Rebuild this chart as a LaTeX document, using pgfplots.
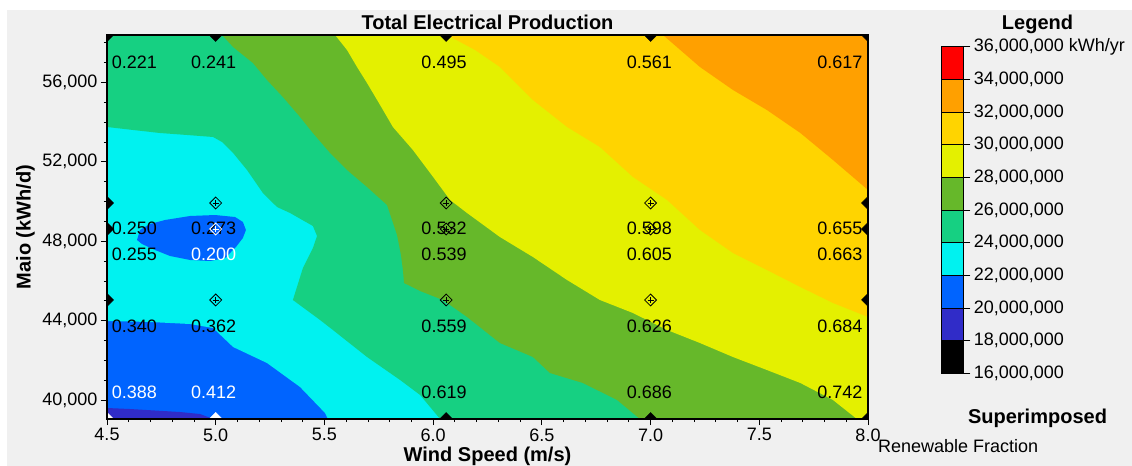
\documentclass[border=0pt]{standalone}
\usepackage{fontspec}
\setmainfont{Liberation Sans}
\usepackage{pgfplots}
\pgfplotsset{compat=1.18}
\definecolor{cRed}{RGB}{255,0,0}
\definecolor{cOrange}{RGB}{255,160,0}
\definecolor{cGold}{RGB}{255,212,0}
\definecolor{cYellow}{RGB}{228,240,0}
\definecolor{cGreen}{RGB}{102,184,42}
\definecolor{cTeal}{RGB}{22,208,130}
\definecolor{cCyan}{RGB}{0,242,240}
\definecolor{cBlue}{RGB}{0,100,255}
\definecolor{cIndigo}{RGB}{48,44,200}
\definecolor{cPanel}{RGB}{240,240,240}
\newcommand{\regfont}{\fontsize{18bp}{20bp}\selectfont}
\newcommand{\boldfont}{\bfseries\fontsize{20bp}{22bp}\selectfont}
\begin{document}
\begin{tikzpicture}
\fill[white] (0,0) rectangle (1132bp,466bp);
\fill[cPanel] (7bp,0) rectangle (1132bp,456bp);
\path[use as bounding box] (0,0) rectangle (1132bp,466bp);
\begin{axis}[
  scale only axis, width=761bp, height=384bp,
  at={(107bp,47bp)}, anchor=south west,
  xmin=4.5, xmax=8.0, ymin=39043, ymax=58389,
  xtick={4.5,5.0,5.5,6.0,6.5,7.0,7.5,8.0},
  minor xtick={4.5,4.6,4.7,4.8,4.9,5.0,5.1,5.2,5.3,5.4,5.5,5.6,5.7,5.8,5.9,6.0,6.1,6.2,6.3,6.4,6.5,6.6,6.7,6.8,6.9,7.0,7.1,7.2,7.3,7.4,7.5,7.6,7.7,7.8,7.9},
  ytick={40000,44000,48000,52000,56000},
  minor ytick={40000,41000,42000,43000,44000,45000,46000,47000,48000,49000,50000,51000,52000,53000,54000,55000,56000,57000,58000},
  xtick pos=bottom, ytick pos=left,
  tick align=outside, major tick length=6bp, minor tick length=3bp,
  tick style={black, line width=0.8bp},
  scaled y ticks=false,
  x tick label style={/pgf/number format/.cd, fixed, fixed zerofill, precision=1},
  y tick label style={/pgf/number format/.cd, fixed, 1000 sep={,}},
  /pgf/number format/assume math mode=true,
  tick label style={font=\regfont, text=black},
  axis on top,
  axis line style={black, line width=1.3bp},
  clip marker paths=true,
  title={Total Electrical Production},
  title style={font=\boldfont, at={(0.5,1)}, anchor=south, inner sep=0pt, yshift=-1bp},
  xlabel={Wind Speed (m/s)},
  xlabel style={font=\boldfont, at={(axis description cs:0.5,0)}, anchor=north, inner sep=0pt, yshift=-28bp},
  ylabel={Maio (kWh/d)},
  ylabel style={font=\boldfont, at={(axis description cs:-0.107,0.5)}, anchor=center, inner sep=0pt, rotate=0},
  every node near coord/.append style={font=\regfont, anchor=center, inner sep=0pt},
]
% 20-22 base
\addplot[fill=cBlue, draw=none] coordinates {(4.5,39043)(8,39043)(8,58389)(4.5,58389)} -- cycle;
% 18-20 sliver
\addplot[fill=cIndigo, draw=none] coordinates {(4.5,39597)(4.606,39546)(4.836,39395)(4.928,39294)(4.988,39043)(4.5,39043)} -- cycle;
% >= 22
\addplot[fill=cCyan, draw=none] coordinates {(4.5,58389)(4.5,43980)(4.698,43930)(4.882,43829)(4.988,43627)(5.080,42670)(5.236,41864)(5.388,40655)(5.503,39345)(5.516,39043)(8,39043)(8,58389)} -- cycle;
% blue blob (< 22)
\addplot[fill=cBlue, draw=none] coordinates {(4.638,48061)(4.652,48565)(4.698,48867)(4.767,49068)(4.882,49270)(4.997,49320)(5.089,49219)(5.125,48968)(5.139,48565)(5.125,48162)(5.093,47708)(5.043,47154)(4.974,47003)(4.882,47053)(4.790,47255)(4.721,47557)(4.661,47859)} -- cycle;
% >= 24
\addplot[fill=cTeal, draw=none] coordinates {(4.5,53754)(4.620,53603)(4.744,53451)(4.868,53351)(4.988,53250)(5.029,52998)(5.080,52444)(5.144,51587)(5.217,50429)(5.282,49723)(5.342,49421)(5.447,48766)(5.466,48262)(5.447,47658)(5.401,46650)(5.355,45038)(5.480,44030)(5.539,43527)(5.696,42166)(5.848,41008)(5.940,40252)(5.986,39647)(6.032,39043)(8,39043)(8,58389)(4.5,58389)} -- cycle;
% >= 26
\addplot[fill=cGreen, draw=none] coordinates {(5.029,58389)(5.080,57784)(5.171,56978)(5.236,56122)(5.309,55265)(5.388,54258)(5.447,53451)(5.526,52444)(5.604,51587)(5.696,50731)(5.788,49824)(5.811,49068)(5.834,48313)(5.852,47305)(5.861,46549)(5.866,45894)(5.940,45491)(6.045,45038)(6.156,44182)(6.307,42872)(6.459,42166)(6.537,41360)(6.689,40856)(6.846,40000)(6.951,39043)(8,39043)(8,58389)} -- cycle;
% >= 28
\addplot[fill=cYellow, draw=none] coordinates {(5.549,58389)(5.604,57633)(5.650,56777)(5.696,55970)(5.756,54862)(5.815,53754)(5.907,52595)(6.000,51235)(6.078,50076)(6.156,49421)(6.307,48212)(6.459,47204)(6.616,46045)(6.767,45038)(6.919,44383)(7.076,43527)(7.227,42872)(7.379,42166)(7.535,41511)(7.689,40856)(7.839,40000)(7.949,39043)(8,39043)(8,58389)} -- cycle;
% >= 30
\addplot[fill=cGold, draw=none] coordinates {(6.064,58389)(6.193,57633)(6.307,56777)(6.459,55114)(6.616,53754)(6.767,52746)(6.919,51235)(7.076,50076)(7.227,48565)(7.379,47406)(7.535,46549)(7.689,45692)(7.839,44887)(8,44182)(8,58389)} -- cycle;
% >= 32
\addplot[fill=cOrange, draw=none] coordinates {(7.057,58389)(7.227,56777)(7.379,55618)(7.535,54610)(7.689,53451)(7.839,52091)(8,50580)(8,58389)} -- cycle;
% renewable fraction labels (black)
\addplot[draw=none, mark=none, nodes near coords, point meta=explicit symbolic, every node near coord/.append style={text=black}] coordinates {
 (4.626,57029) [0.221] (4.99,57029) [0.241] (6.05,57029) [0.495] (6.995,57029) [0.561] (7.871,57029) [0.617]
 (4.626,48665) [0.250] (4.99,48665) [0.273] (6.05,48665) [0.532] (6.995,48665) [0.598] (7.871,48665) [0.655]
 (4.626,47356) [0.255] (6.05,47356) [0.539] (6.995,47356) [0.605] (7.871,47356) [0.663]
 (4.626,43728) [0.340] (4.99,43728) [0.362] (6.05,43728) [0.559] (6.995,43728) [0.626] (7.871,43728) [0.684]
 (6.05,40403) [0.619] (6.995,40403) [0.686] (7.871,40403) [0.742]
};
% labels (white)
\addplot[draw=none, mark=none, nodes near coords, point meta=explicit symbolic, every node near coord/.append style={text=white}] coordinates {
 (4.99,47356) [0.200] (4.626,40403) [0.388] (4.99,40403) [0.412]
};
% edge markers
\addplot[only marks, mark=square*, mark size=4.6bp, mark options={rotate=45, fill=black, draw=black}] coordinates {
 (4.5,58389)(5,58389)(6.06,58389)(7,58389)(8,58389)
 (4.5,49925)(4.5,48615)(4.5,45040)(8,49925)(8,48615)(8,45040)
 (6.06,39043)(7,39043)(8,39043)};
\addplot[only marks, mark=square*, mark size=4.6bp, mark options={rotate=45, fill=white, draw=white}] coordinates {(4.5,39043)(5,39043)};
% interior markers
\addplot[only marks, mark=square, mark size=4.2bp, mark options={rotate=45, draw=black, line width=0.8bp}] coordinates {
 (5,49925)(6.06,49925)(7,49925)(5,45040)(6.06,45040)(7,45040)(6.06,48615)(7,48615)};
\addplot[only marks, mark=+, mark size=3bp, mark options={draw=black, line width=0.9bp}] coordinates {
 (5,49925)(6.06,49925)(7,49925)(5,45040)(6.06,45040)(7,45040)(6.06,48615)(7,48615)};
\addplot[only marks, mark=square, mark size=4.2bp, mark options={rotate=45, draw=white, line width=0.8bp}] coordinates {(5,48615)};
\addplot[only marks, mark=+, mark size=3bp, mark options={draw=white, line width=0.9bp}] coordinates {(5,48615)};
\end{axis}
% legend colour scale
\begin{axis}[
  scale only axis, width=21.6bp, height=326.7bp,
  at={(941.7bp,92.7bp)}, anchor=south west,
  xmin=0, xmax=1, ymin=16, ymax=36,
  xtick=\empty,
  ytick={16,18,20,22,24,26,28,30,32,34,36},
  yticklabels={{16,000,000},{18,000,000},{20,000,000},{22,000,000},{24,000,000},{26,000,000},{28,000,000},{30,000,000},{32,000,000},{34,000,000},{36,000,000 kWh/yr}},
  ytick pos=right, yticklabel pos=right,
  tick align=outside, major tick length=7bp,
  tick style={black, line width=0.8bp},
  tick label style={font=\regfont, text=black},
  axis on top,
  axis line style={black, line width=1.3bp},
]
\addplot[fill=black, draw=black, line width=0.8bp] coordinates {(0,16)(1,16)(1,18)(0,18)} -- cycle;
\addplot[fill=cIndigo, draw=black, line width=0.8bp] coordinates {(0,18)(1,18)(1,20)(0,20)} -- cycle;
\addplot[fill=cBlue, draw=black, line width=0.8bp] coordinates {(0,20)(1,20)(1,22)(0,22)} -- cycle;
\addplot[fill=cCyan, draw=black, line width=0.8bp] coordinates {(0,22)(1,22)(1,24)(0,24)} -- cycle;
\addplot[fill=cTeal, draw=black, line width=0.8bp] coordinates {(0,24)(1,24)(1,26)(0,26)} -- cycle;
\addplot[fill=cGreen, draw=black, line width=0.8bp] coordinates {(0,26)(1,26)(1,28)(0,28)} -- cycle;
\addplot[fill=cYellow, draw=black, line width=0.8bp] coordinates {(0,28)(1,28)(1,30)(0,30)} -- cycle;
\addplot[fill=cGold, draw=black, line width=0.8bp] coordinates {(0,30)(1,30)(1,32)(0,32)} -- cycle;
\addplot[fill=cOrange, draw=black, line width=0.8bp] coordinates {(0,32)(1,32)(1,34)(0,34)} -- cycle;
\addplot[fill=cRed, draw=black, line width=0.8bp] coordinates {(0,34)(1,34)(1,36)(0,36)} -- cycle;
\end{axis}
\node[anchor=base, font=\boldfont, inner sep=0pt] at (1037.5bp,436.7bp) {Legend};
\node[anchor=base, font=\boldfont, inner sep=0pt] at (1037.5bp,42bp) {Superimposed};
\node[anchor=base west, font=\regfont, inner sep=0pt] at (878bp,14bp) {Renewable Fraction};
\end{tikzpicture}
\end{document}
